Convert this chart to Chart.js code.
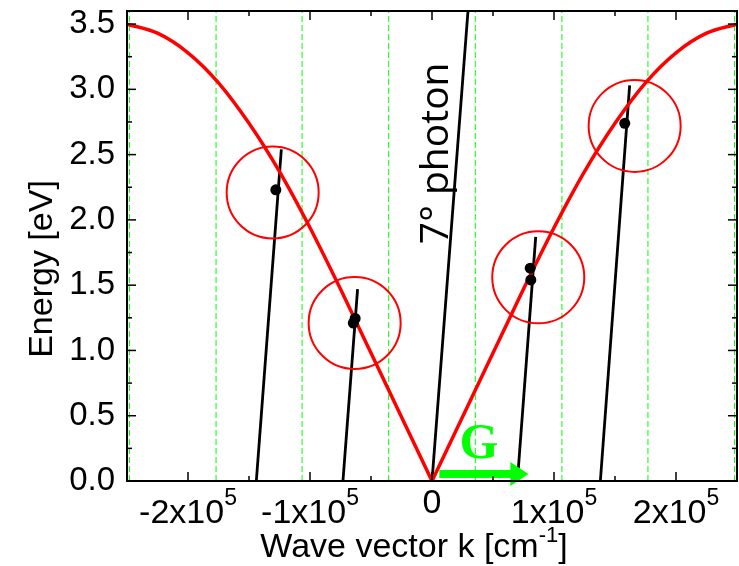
<!DOCTYPE html>
<html>
<head>
<meta charset="utf-8">
<title>Energy vs wave vector</title>
<script src="https://cdn.jsdelivr.net/npm/chart.js@4.4.1/dist/chart.umd.min.js"></script>
<style>
  html, body { margin: 0; padding: 0; background: #fff; }
  canvas { display: block; }
</style>
</head>
<body>
<canvas id="dispersion" width="739" height="566"></canvas>
<script>
// dispersion branch on both sides of k = 0 (k in cm^-1, E in eV)
const kLeft  = [-250000, -225000, -200000, -175000, -150000, -125000, -100000, -75000, -50000, -25000, 0];
const eLeft  = [3.50, 3.43, 3.28, 3.05, 2.74, 2.37, 1.94, 1.47, 0.98, 0.49, 0];
const kRight = [0, 25000, 50000, 75000, 100000, 125000, 150000, 175000, 200000, 225000, 250000];
const eRight = [0, 0.49, 0.98, 1.47, 1.94, 2.37, 2.74, 3.05, 3.28, 3.43, 3.50];

// 7 deg light line and its copies shifted by multiples of G
const lineK0 = [-144000, -73000, 0, 70000, 138000];
const lineK1 = [-123500, -61000, 29500, 85000, 162000];
const lineE1 = [2.54, 1.47, 3.6, 1.87, 3.03];

// measured resonances
const dotK = [-128000, -63000, -64500, 80500, 81000, 158000];
const dotE = [2.23, 1.245, 1.21, 1.63, 1.54, 2.74];

// circled crossings
const ringK = [-130600, -63400, 87100, 166100];
const ringE = [2.21, 1.21, 1.56, 2.72];

// zone boundaries (dashed)
const zoneK = [-248000, -177000, -106500, -35500, 35500, 106500, 177000, 248000];

// labelled k ticks
const xTicks = [-200000, -100000, 0, 100000, 200000];

const SANS = '"Liberation Sans", Arial, sans-serif';
const RED = '#ff0000';
const GREEN = '#00ff00';

const pts = (ks, es) => ks.map((k, i) => ({ x: k, y: es[i] }));

const datasets = [];
datasets.push({
  data: pts(dotK, dotE), pointRadius: 5.5, pointBackgroundColor: '#000',
  pointBorderWidth: 0, order: 0
});
datasets.push({
  data: pts(ringK, ringE), pointRadius: 46, pointBackgroundColor: 'rgba(0,0,0,0)',
  pointBorderColor: RED, pointBorderWidth: 2, order: 1
});
[pts(kLeft, eLeft), pts(kRight, eRight)].forEach(d => datasets.push({
  data: d, showLine: true, borderColor: RED, borderWidth: 3.5, pointRadius: 0,
  cubicInterpolationMode: 'monotone', order: 2
}));
lineK0.forEach((k, i) => datasets.push({
  data: [{ x: k, y: 0 }, { x: lineK1[i], y: lineE1[i] }],
  showLine: true, borderColor: '#000', borderWidth: 2.8, pointRadius: 0, order: 3
}));
zoneK.forEach(k => datasets.push({
  data: [{ x: k, y: 0 }, { x: k, y: 3.6 }],
  showLine: true, borderColor: GREEN, borderWidth: 1, borderDash: [6, 3], pointRadius: 0, order: 4
}));

// fixed axis box sizes, no automatic label padding
const fixSize = (prop, size) => s => {
  s[prop] = size;
  s.paddingTop = s.paddingBottom = s.paddingLeft = s.paddingRight = 0;
};

// frame, inward ticks, k labels with exponents, titles and annotations
const decorations = {
  id: 'decorations',
  afterDatasetsDraw(chart) {
    const { ctx, scales: { x, y } } = chart;
    ctx.save();

    // G arrow
    const ay = y.getPixelForValue(0.054);
    const ax0 = x.getPixelForValue(6000);
    const ax1 = x.getPixelForValue(79000);
    ctx.fillStyle = GREEN;
    ctx.fillRect(ax0, ay - 4, ax1 - ax0 - 17, 8);
    ctx.beginPath();
    ctx.moveTo(ax1, ay);
    ctx.lineTo(ax1 - 18, ay - 12);
    ctx.lineTo(ax1 - 18, ay + 12);
    ctx.closePath();
    ctx.fill();

    ctx.font = 'bold 50px "Liberation Serif", "Times New Roman", serif';
    ctx.textAlign = 'center';
    ctx.textBaseline = 'alphabetic';
    ctx.fillText('G', x.getPixelForValue(38500), y.getPixelForValue(0.176));

    // light line label
    ctx.fillStyle = '#000';
    ctx.translate(x.getPixelForValue(13000), y.getPixelForValue(2.51));
    ctx.rotate(-Math.PI / 2);
    ctx.font = '39px "Open Sans", sans-serif';
    ctx.fillText('7\u00b0 photon', 0, 0);
    ctx.restore();
  },
  afterDraw(chart) {
    const { ctx, chartArea: a, scales: { x, y } } = chart;
    ctx.save();
    ctx.strokeStyle = '#000';
    ctx.lineWidth = 2;
    ctx.strokeRect(a.left, a.top, a.right - a.left, a.bottom - a.top);

    ctx.lineWidth = 1.5;
    const tick = (x0, y0, x1, y1) => {
      ctx.beginPath(); ctx.moveTo(x0, y0); ctx.lineTo(x1, y1); ctx.stroke();
    };
    for (let v = -200000; v <= 200000; v += 50000) {
      const px = x.getPixelForValue(v);
      const len = v % 100000 === 0 ? 9 : 5;
      tick(px, a.bottom, px, a.bottom - len);
      tick(px, a.top, px, a.top + len);
    }
    for (let i = 1; i <= 14; i++) {
      const py = y.getPixelForValue(i * 0.25);
      const len = i % 2 === 0 ? 9 : 5;
      tick(a.left, py, a.left + len, py);
      tick(a.right, py, a.right - len, py);
    }

    // k tick labels, "n x 10^5"
    ctx.fillStyle = '#000';
    ctx.textBaseline = 'alphabetic';
    xTicks.forEach(v => {
      const px = x.getPixelForValue(v);
      const m = v / 100000;
      if (m === 0) {
        ctx.font = '34px ' + SANS;
        ctx.textAlign = 'center';
        ctx.fillText('0', px, 513);
        return;
      }
      const base = m + 'x10';
      ctx.font = '34px ' + SANS;
      const w1 = ctx.measureText(base).width;
      ctx.font = '23px ' + SANS;
      const w2 = ctx.measureText('5').width;
      const left = px - (w1 + w2) / 2;
      ctx.textAlign = 'left';
      ctx.font = '34px ' + SANS;
      ctx.fillText(base, left, 523);
      ctx.font = '23px ' + SANS;
      ctx.fillText('5', left + w1, 505);
    });

    // x title with cm^-1
    const t1 = 'Wave vector k [cm', t2 = '-1', t3 = ']';
    ctx.font = '34px ' + SANS;
    const w1 = ctx.measureText(t1).width, w3 = ctx.measureText(t3).width;
    ctx.font = '22px ' + SANS;
    const w2 = ctx.measureText(t2).width;
    let tx = 414 - (w1 + w2 + w3) / 2;
    ctx.textAlign = 'left';
    ctx.font = '34px ' + SANS;
    ctx.fillText(t1, tx, 557);
    ctx.font = '22px ' + SANS;
    ctx.fillText(t2, tx + w1, 542);
    ctx.font = '34px ' + SANS;
    ctx.fillText(t3, tx + w1 + w2, 557);

    // y title
    ctx.translate(52, 269);
    ctx.rotate(-Math.PI / 2);
    ctx.textAlign = 'center';
    ctx.font = '34px ' + SANS;
    ctx.fillText('Energy [eV]', 0, 0);
    ctx.restore();
  }
};

new Chart(document.getElementById('dispersion'), {
  type: 'scatter',
  data: { datasets },
  options: {
    responsive: false,
    devicePixelRatio: 1,
    animation: false,
    events: [],
    layout: { autoPadding: false, padding: { top: 11, right: 2, left: 0, bottom: 0 } },
    plugins: { legend: { display: false }, tooltip: { enabled: false } },
    scales: {
      x: {
        type: 'linear', min: -250000, max: 250000,
        grid: { display: false, drawTicks: false },
        border: { display: false },
        ticks: { display: false },
        afterFit: fixSize('height', 85)
      },
      y: {
        min: 0, max: 3.6,
        grid: { display: false, drawTicks: false },
        border: { display: false },
        ticks: {
          stepSize: 0.5, includeBounds: false, padding: 12, color: '#000',
          font: { family: SANS, size: 33 },
          callback: v => v.toFixed(1)
        },
        afterFit: fixSize('width', 127)
      }
    }
  },
  plugins: [decorations]
});
</script>
</body>
</html>
